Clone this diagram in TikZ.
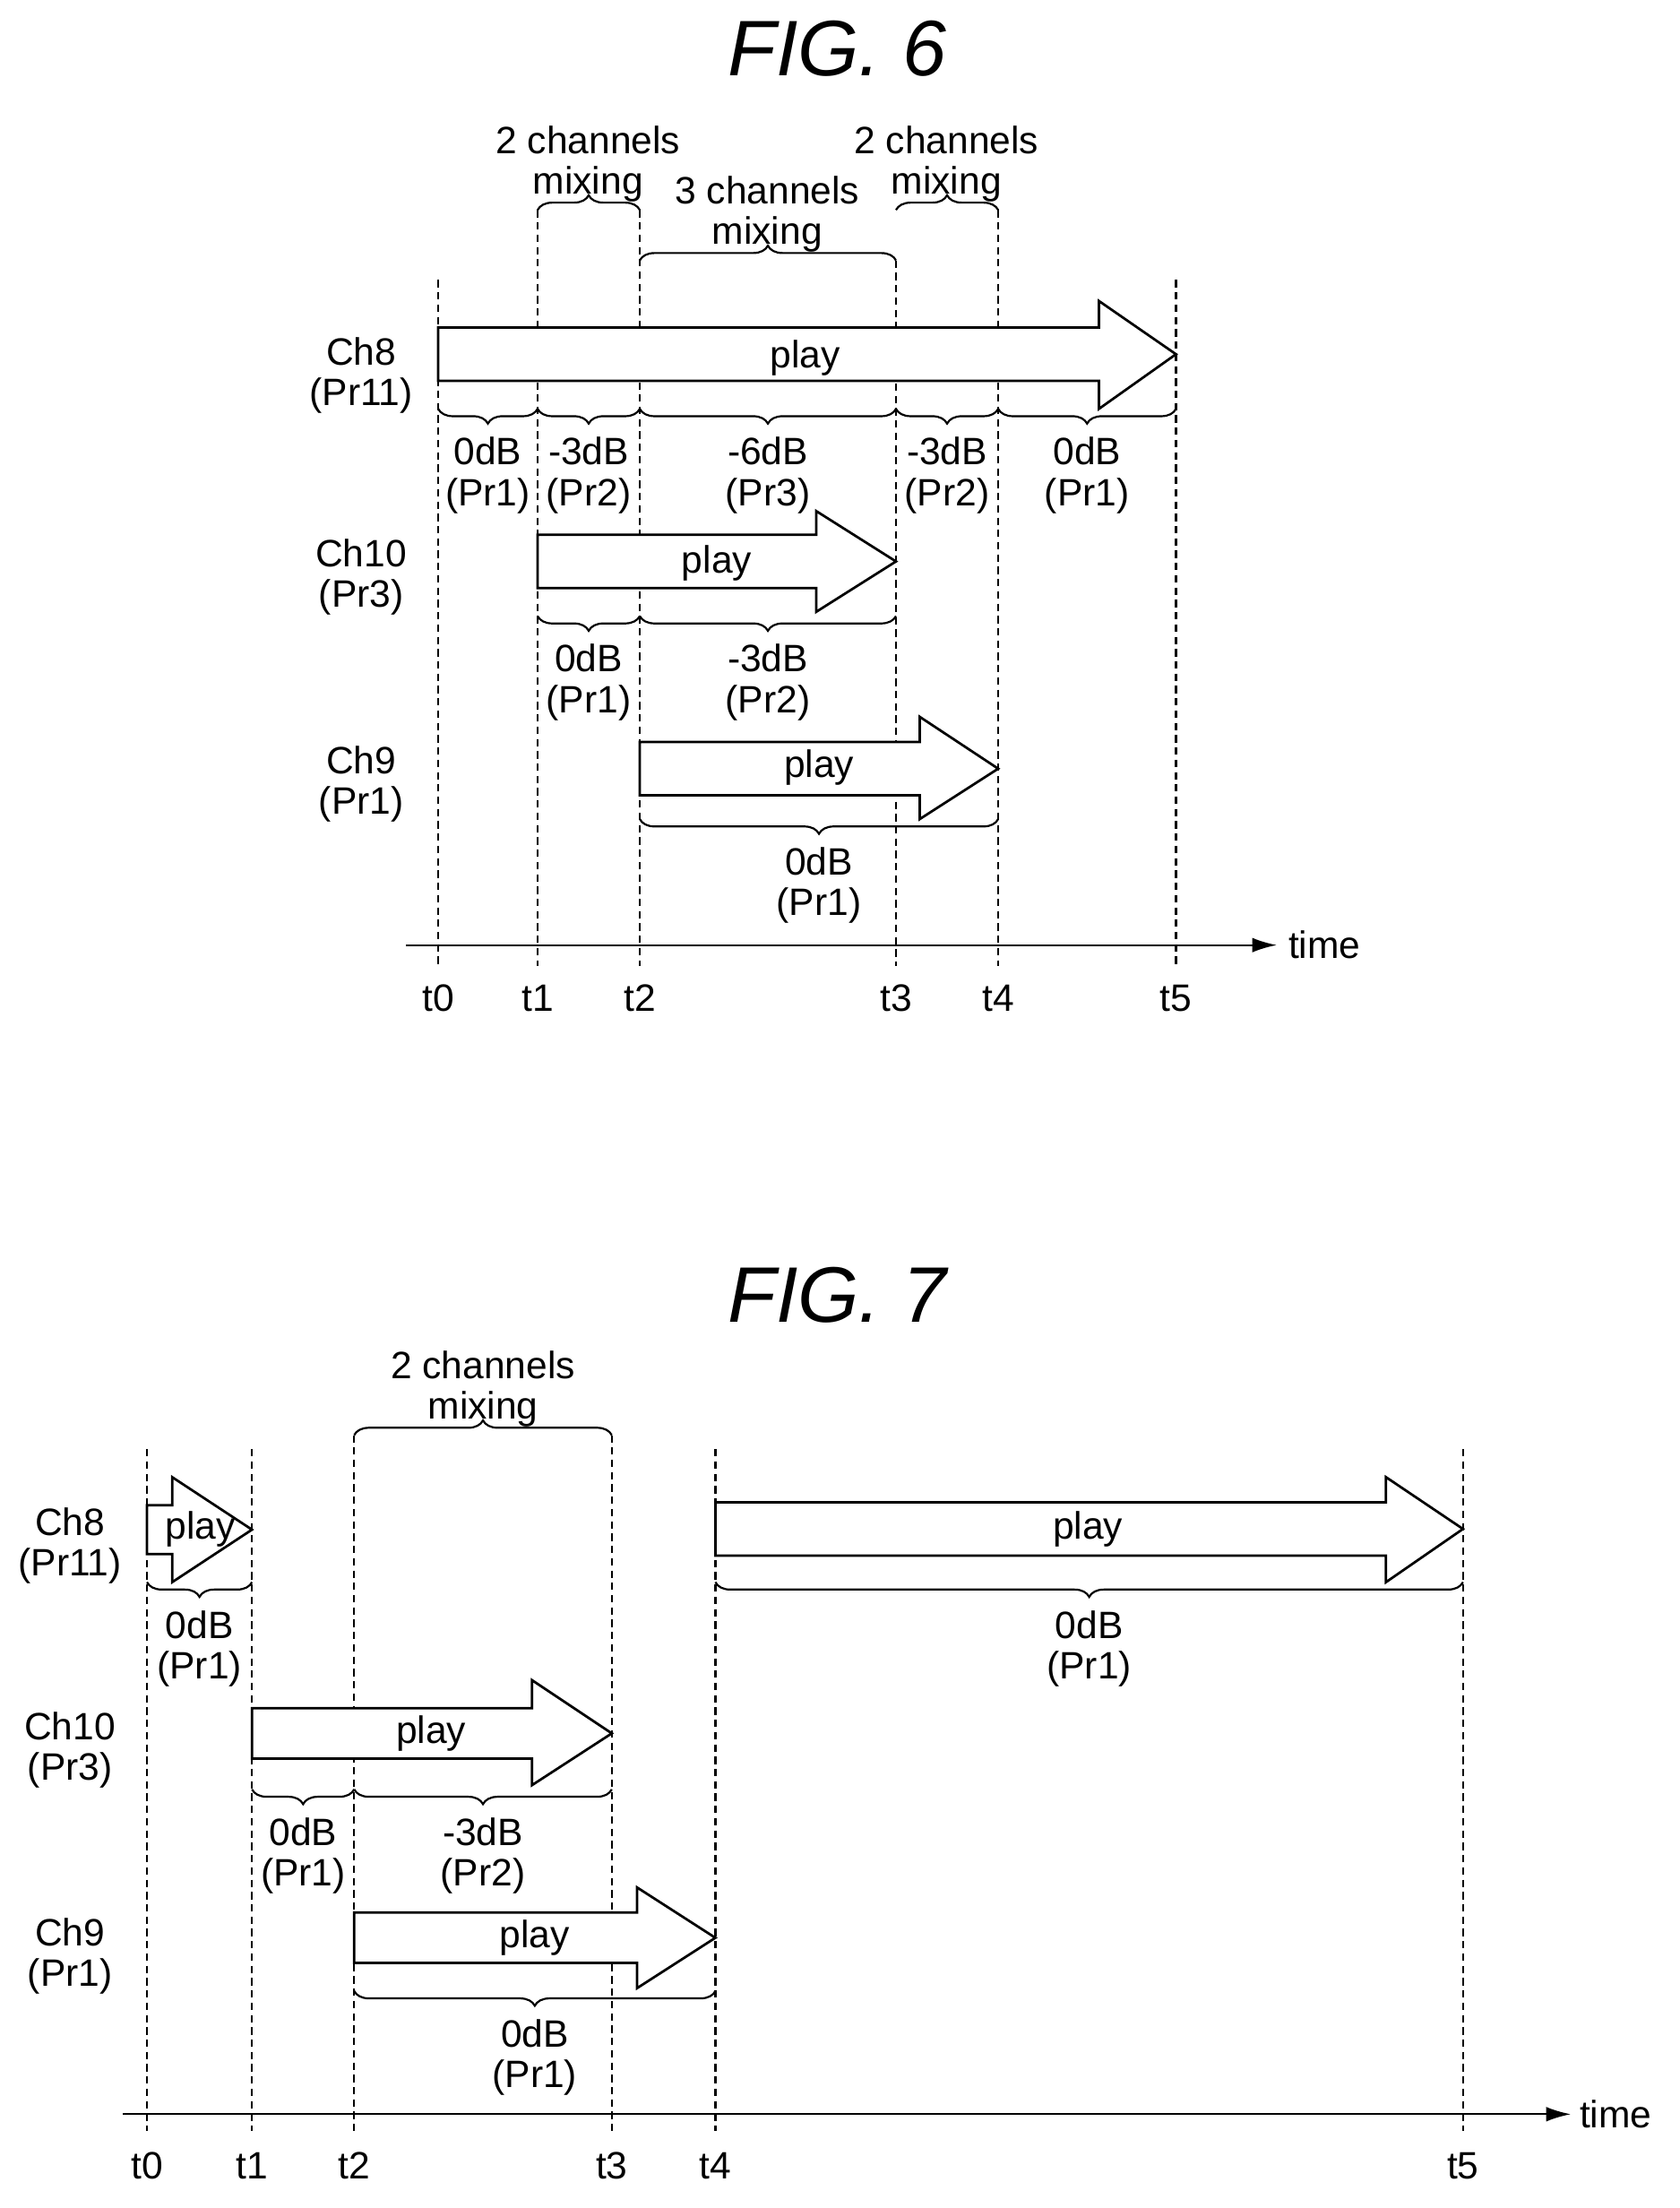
\documentclass[tikz,border=0pt]{standalone}
\usepackage{fontspec}
\setmainfont{Liberation Sans}
\usetikzlibrary{decorations.pathreplacing,arrows.meta}
\tikzset{
  lbl/.style={font=\fontsize{15.5}{16.5}\selectfont, inner sep=0pt, align=center},
  ttl/.style={font=\itshape\fontsize{32}{34}\selectfont, inner sep=0pt},
  tline/.style={densely dashed, line width=0.8pt},
  brc/.style={decorate, decoration={brace, amplitude=6pt}, line width=0.8pt},
  arr/.style={line width=1pt, fill=white},
  axis/.style={line width=0.8pt, -{Latex[length=10pt,width=6pt]}}
}
% play arrow: start, head start, tip, body top, body bottom, head top, head bottom
\newcommand\playarr[7]{%
  \draw[arr] (#1,#4) -- (#2,#4) -- (#2,#6) -- (#3,{(#4+#5)/2}) -- (#2,#7) -- (#2,#5) -- (#1,#5) -- cycle;}
\begin{document}
\begin{tikzpicture}[x=0.02cm, y=-0.02cm]
  \useasboundingbox (0,0) rectangle (1200,1577);

  % ---------- FIG. 6 ----------
  \node[ttl] (fig6) at (598,35) {FIG. 6};

  \foreach \x/\yt/\n in {313/200/0, 384/150/1, 457/150/2, 640/186/3, 713/150/4, 840/200/5} {
    \draw[tline] (\x,\yt) -- (\x,690);
    \node[lbl] (a\n) at (\x,713) {t\n};
  }
  \draw[axis] (290,675) -- (912,675);
  \node[lbl, anchor=west] (atime) at (920,675) {time};

  \draw[brc] (384,150) -- (457,150);
  \node[lbl] (mixA) at (420,117) {2 channels\\mixing};
  \draw[brc] (457,186) -- (640,186);
  \node[lbl] (mixB) at (548,153) {3 channels\\mixing};
  \draw[brc] (640,150) -- (713,150);
  \node[lbl] (mixC) at (676,117) {2 channels\\mixing};

  \playarr{313}{785}{840}{234}{272}{215}{292}
  \node[lbl] (p8) at (575,256) {play};
  \node[lbl] (ch8) at (258,268) {Ch8\\(Pr11)};
  \foreach \xa/\xb/\t in {313/384/{0dB\\(Pr1)}, 384/457/{-3dB\\(Pr2)}, 457/640/{-6dB\\(Pr3)}, 640/713/{-3dB\\(Pr2)}, 713/840/{0dB\\(Pr1)}}
    \draw[brc] (\xb,292) -- node[lbl, pos=0.5, yshift=-27pt] {\t} (\xa,292);

  \playarr{384}{583}{640}{382}{420}{365}{437}
  \node[lbl] (p10) at (512,402) {play};
  \node[lbl] (ch10) at (258,412) {Ch10\\(Pr3)};
  \foreach \xa/\xb/\t in {384/457/{0dB\\(Pr1)}, 457/640/{-3dB\\(Pr2)}}
    \draw[brc] (\xb,440) -- node[lbl, pos=0.5, yshift=-27pt] {\t} (\xa,440);

  \playarr{457}{657}{713}{530}{568}{512}{585}
  \node[lbl] (p9) at (585,548) {play};
  \node[lbl] (ch9) at (258,560) {Ch9\\(Pr1)};
  \draw[brc] (713,585) -- node[lbl, pos=0.5, yshift=-27pt] {0dB\\(Pr1)} (457,585);

  % ---------- FIG. 7 ----------
  \node[ttl] (fig7) at (598,925) {FIG. 7};

  \foreach \x/\yt/\n in {105/1035/0, 180/1035/1, 253/1025/2, 437/1025/3, 511/1035/4, 1045/1035/5} {
    \draw[tline] (\x,\yt) -- (\x,1522);
    \node[lbl] (b\n) at (\x,1547) {t\n};
  }
  \draw[axis] (88,1510) -- (1122,1510);
  \node[lbl, anchor=west] (btime) at (1128,1510) {time};

  \draw[brc] (253,1025) -- (437,1025);
  \node[lbl] (mixD) at (345,992) {2 channels\\mixing};

  \playarr{105}{123}{180}{1075}{1110}{1055}{1130}
  \node[lbl] (q8a) at (143,1092) {play};
  \playarr{511}{990}{1045}{1073}{1111}{1055}{1130}
  \node[lbl] (q8b) at (777,1092) {play};
  \node[lbl] (dh8) at (50,1104) {Ch8\\(Pr11)};
  \foreach \xa/\xb in {105/180, 511/1045}
    \draw[brc] (\xb,1130) -- node[lbl, pos=0.5, yshift=-27pt] {0dB\\(Pr1)} (\xa,1130);

  \playarr{180}{380}{437}{1220}{1256}{1200}{1275}
  \node[lbl] (q10) at (308,1238) {play};
  \node[lbl] (dh10) at (50,1250) {Ch10\\(Pr3)};
  \foreach \xa/\xb/\t in {180/253/{0dB\\(Pr1)}, 253/437/{-3dB\\(Pr2)}}
    \draw[brc] (\xb,1278) -- node[lbl, pos=0.5, yshift=-27pt] {\t} (\xa,1278);

  \playarr{253}{455}{511}{1366}{1402}{1348}{1420}
  \node[lbl] (q9) at (382,1384) {play};
  \node[lbl] (dh9) at (50,1397) {Ch9\\(Pr1)};
  \draw[brc] (511,1422) -- node[lbl, pos=0.5, yshift=-27pt] {0dB\\(Pr1)} (253,1422);
\end{tikzpicture}
\end{document}
